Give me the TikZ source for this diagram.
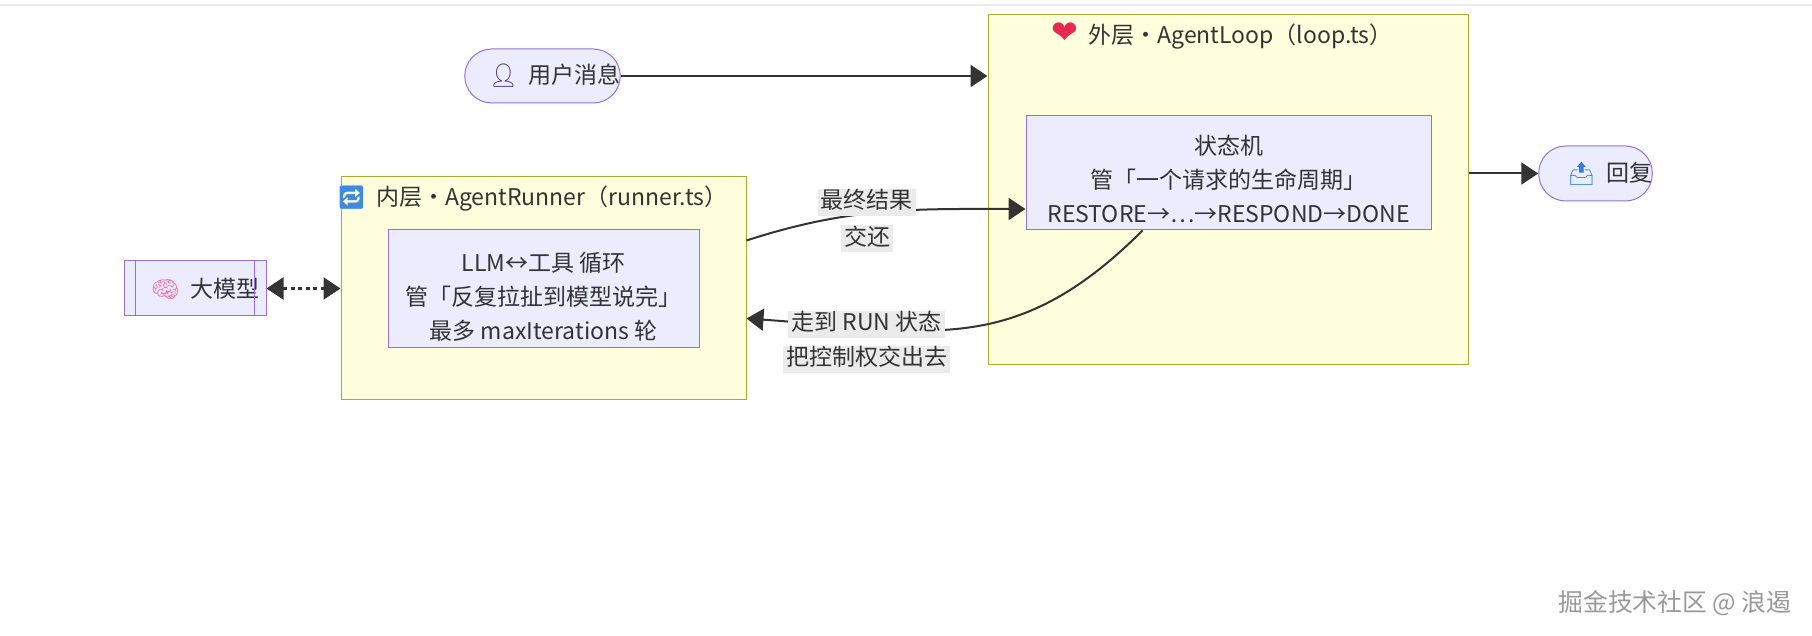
\documentclass[tikz,border=0pt]{standalone}
\usepackage{fontspec}
\setmainfont{Noto Sans CJK SC}
\newfontfamily\emoji{Noto Emoji}
\newfontfamily\symb{DejaVu Sans}
\usepackage{tikz}
\usetikzlibrary{shapes}
\usetikzlibrary{arrows.meta}
\usetikzlibrary{positioning}
\usetikzlibrary{calc}
\definecolor{nodefill}{HTML}{ECECFF}
\definecolor{nodeline}{HTML}{9370DB}
\definecolor{clusterfill}{HTML}{FFFFDE}
\definecolor{clusterline}{HTML}{AAAA33}
\definecolor{ink}{HTML}{333333}
\definecolor{labelfill}{HTML}{EBEBEB}
\definecolor{bust}{HTML}{4B2C83}
\definecolor{repeatblue}{HTML}{3D8BE0}
\definecolor{heart}{HTML}{E8284F}
\definecolor{brain}{HTML}{F272B0}
\definecolor{outbox}{HTML}{2F80D6}
\tikzstyle{cluster}=[rectangle,draw=clusterline,fill=clusterfill,line width=0.5pt,inner sep=0pt]
\tikzstyle{etat}=[rectangle,draw=nodeline,fill=nodefill,line width=0.5pt,align=center,text=ink,inner sep=0pt]
\tikzstyle{stade}=[etat,rounded corners=13.5pt]
\tikzstyle{titre}=[text=ink,inner sep=0pt]
\tikzstyle{etiq}=[rectangle,fill=labelfill,text=ink,inner xsep=1.5pt,inner ysep=1.5pt,text height=0.85em,text depth=0.2em]
\tikzstyle{suite}=[-{Triangle[length=8.5pt,width=11pt]},line width=1pt,draw=ink]
\tikzstyle{allerretour}=[{Triangle[length=8.5pt,width=11pt]}-{Triangle[length=8.5pt,width=11pt]},line width=1.1pt,draw=ink,dash pattern=on 2pt off 1.8pt]

\begin{document}
\begin{tikzpicture}[x=0.5pt,y=-0.5pt,font=\fontsize{11.5pt}{17pt}\selectfont]
\useasboundingbox (0,0) rectangle (1812,636);
\draw[black!8,line width=0.8pt] (0,5) -- (1812,5);
\node[cluster,minimum width=240pt,minimum height=175pt] (outer) at (1228,190) {};
\node[titre] (outertitle) at (1222,36) {\textcolor{heart}{\symb\fontsize{16pt}{16pt}\selectfont ❤}\ \ 外层·AgentLoop（loop.ts）};
\node[etat,minimum width=202.5pt,minimum height=57pt] (sm) at (1228.5,173) {\rule{0pt}{15.5pt}状态机\\管「一个请求的生命周期」\\RESTORE→…→RESPOND→DONE};
\node[cluster,minimum width=202.5pt,minimum height=111.5pt] (inner) at (543.5,288.5) {};
\node[titre] (innertitle) at (532,199) {\textcolor{repeatblue}{\emoji 🔁}\ \ 内层·AgentRunner（runner.ts）};
\node[etat,minimum width=155.5pt,minimum height=59pt] (runner) at (543.5,289) {\rule{0pt}{17pt}LLM↔工具 循环\\管「反复拉扯到模型说完」\\最多 maxIterations 轮};
\node[etat,minimum width=71pt,minimum height=27.5pt] (llm) at (195,288.5) {\hspace*{10pt}\textcolor{brain}{\emoji 🧠}\ \ 大模型};
\draw[nodeline,line width=0.5pt] ($(llm.north west)+(12,0)$) -- ($(llm.south west)+(12,0)$);
\draw[nodeline,line width=0.5pt] ($(llm.north east)+(-12,0)$) -- ($(llm.south east)+(-12,0)$);
\node[stade,minimum width=77.5pt,minimum height=27pt] (user) at (542.5,76) {\hspace*{12pt}\textcolor{bust}{\emoji 👤}\ \ 用户消息};
\node[stade,minimum width=54.5pt,minimum height=27.5pt] (reply) at (1595.5,173.5) {\hspace*{14pt}\textcolor{outbox}{\emoji 📤}\ \ 回复};
\node[text=black!40,font=\fontsize{12.4pt}{14pt}\selectfont] (mark) at (1675,603) {掘金技术社区 @ 浪遏};
%connecteurs
\draw[suite] (user.east) -- (user -| outer.west);
\draw[suite] (outer.east |- reply) -- (reply.west);
\draw[allerretour] (llm.east) -- (inner.west);
\draw[suite] ([yshift=24pt]inner.east) to[out=18,in=180] ([yshift=-18pt]sm.west);
\draw[suite] ([xshift=-43pt]sm.south) to[out=-135,in=-4,looseness=1.15] ([yshift=-15pt]inner.east);
\node[etiq] (lbla1) at (866.5,202.5) {最终结果};
\node[etiq] (lbla2) at (867,239) {交还};
\node[etiq] (lblb1) at (866.5,324.5) {走到 RUN 状态};
\node[etiq] (lblb2) at (866.5,359.5) {把控制权交出去};
\end{tikzpicture}
\end{document}
